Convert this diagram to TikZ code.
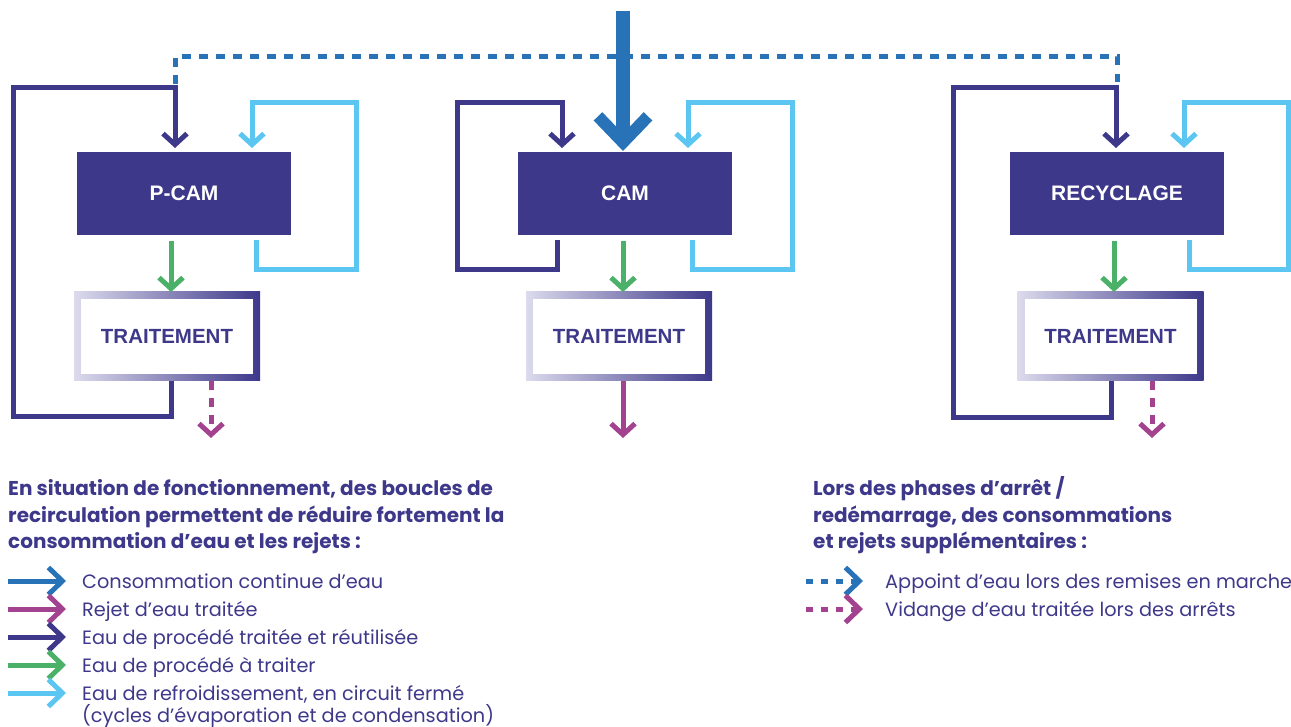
\documentclass[tikz,border=0pt]{standalone}
\usepackage{fontspec}
\setmainfont{Poppins}
\newfontfamily\boxfont{Liberation Sans}
\usetikzlibrary{arrows.meta}
\definecolor{purp}{RGB}{61,56,138}
\definecolor{blueC}{RGB}{40,114,184}
\definecolor{lblue}{RGB}{91,198,242}
\definecolor{greenC}{RGB}{75,177,104}
\definecolor{magC}{RGB}{163,67,143}
\definecolor{trlight}{RGB}{220,218,236}
\tikzset{
  proc/.style={fill=purp, text=white, minimum width=214pt, minimum height=83pt, inner sep=0pt, font=\boxfont\bfseries\fontsize{21}{21}\selectfont},
  trout/.style={left color=trlight, right color=purp, minimum width=186pt, minimum height=89pt, inner sep=0pt},
  trin/.style={fill=white, text=purp, minimum width=172pt, minimum height=75pt, inner sep=0pt, font=\boxfont\bfseries\fontsize{20.5}{20.5}\selectfont},
  flow/.style={line width=5pt, -{Straight Barb[length=11pt,width=24pt]}},
  dk/.style={flow, purp},
  lb/.style={flow, lblue},
  gr/.style={flow, greenC},
  mg/.style={flow, magC},
  dsh/.style={dash pattern=on 8.5pt off 8.5pt},
  head/.style={anchor=base west, text=purp, inner sep=0pt, font=\bfseries\fontsize{20}{20}\selectfont},
  item/.style={anchor=base west, text=purp, inner sep=0pt, font=\fontsize{19.3}{19.3}\selectfont},
  legarrow/.style={line width=5pt, -{Straight Barb[length=14pt,width=27pt]}},
}
\begin{document}
\begin{tikzpicture}[x=1pt,y=-1pt]
\useasboundingbox (0,0) rectangle (1291,727);
% process boxes
\node[proc] (p1) at (184,193.5) {P-CAM};
\node[proc] (p2) at (625,193.5) {CAM};
\node[proc] (p3) at (1117,193.5) {RECYCLAGE};
% treatment boxes
\node[trout] (t1o) at (167,336.5) {};
\node[trin] (t1) at (t1o) {TRAITEMENT};
\node[trout] (t2o) at (619,336.5) {};
\node[trin] (t2) at (t2o) {TRAITEMENT};
\node[trout] (t3o) at (1110.5,336.5) {};
\node[trin] (t3) at (t3o) {TRAITEMENT};
% dashed make-up line
\draw[blueC, line width=5pt, dsh] (175,84) -- (175,57) -- (1117,57) -- (1117,84);
% left panel
\draw[dk] (171,381) -- (171,416.5) -- (13,416.5) -- (13,87.5) -- (175,87.5) -- (175,148);
\draw[lb] (256,240) -- (256,270) -- (356,270) -- (356,103) -- (252,103) -- (252,148);
\draw[gr] (171,241) -- (171,292);
\draw[mg, dsh] (211,381) -- (211,438);
% centre panel
\draw[dk] (557,240) -- (557,270) -- (457,270) -- (457,103) -- (562,103) -- (562,148);
\draw[lb] (692,240) -- (692,270) -- (792,270) -- (792,103) -- (688,103) -- (688,148);
\draw[gr] (623,241) -- (623,292);
\draw[mg] (623,381) -- (623,438);
\draw[blueC, line width=14pt, -{Straight Barb[length=26pt,width=50pt,line width=12pt]}] (623,11) -- (623,151);
% right panel
\draw[dk] (1111,381) -- (1111,417) -- (953,417) -- (953,87.5) -- (1116,87.5) -- (1116,148);
\draw[lb] (1189,240) -- (1189,270) -- (1288,270) -- (1288,103) -- (1184,103) -- (1184,148);
\draw[gr] (1114,241) -- (1114,292);
\draw[mg, dsh] (1152,381) -- (1152,438);
% left legend
\node[head] (h1) at (8,495) {En situation de fonctionnement, des boucles de};
\node[head] (h2) at (8,522) {recirculation permettent de réduire fortement la};
\node[head] (h3) at (8,548) {consommation d’eau et les rejets :};
\draw[legarrow, blueC] (8,581) -- (66,581);
\draw[legarrow, magC] (8,609) -- (66,609);
\draw[legarrow, purp] (8,637) -- (66,637);
\draw[legarrow, greenC] (8,665) -- (66,665);
\draw[legarrow, lblue] (8,693) -- (66,693);
\node[item] (i1) at (82,588) {Consommation continue d’eau};
\node[item] (i2) at (82,616) {Rejet d’eau traitée};
\node[item] (i3) at (82,644) {Eau de procédé traitée et réutilisée};
\node[item] (i4) at (82,672) {Eau de procédé à traiter};
\node[item] (i5) at (82,700) {Eau de refroidissement, en circuit fermé};
\node[item] (i6) at (82,722) {(cycles d’évaporation et de condensation)};
% right legend
\node[head] (h4) at (813,495) {Lors des phases d’arrêt /};
\node[head] (h5) at (813,522) {redémarrage, des consommations};
\node[head] (h6) at (813,548) {et rejets supplémentaires :};
\draw[legarrow, blueC, dash pattern=on 7pt off 8pt] (806,581) -- (863,581);
\draw[legarrow, magC, dash pattern=on 7pt off 8pt] (806,609) -- (863,609);
\node[item] (i7) at (885,588) {Appoint d’eau lors des remises en marche};
\node[item] (i8) at (885,616) {Vidange d’eau traitée lors des arrêts};
\end{tikzpicture}
\end{document}
